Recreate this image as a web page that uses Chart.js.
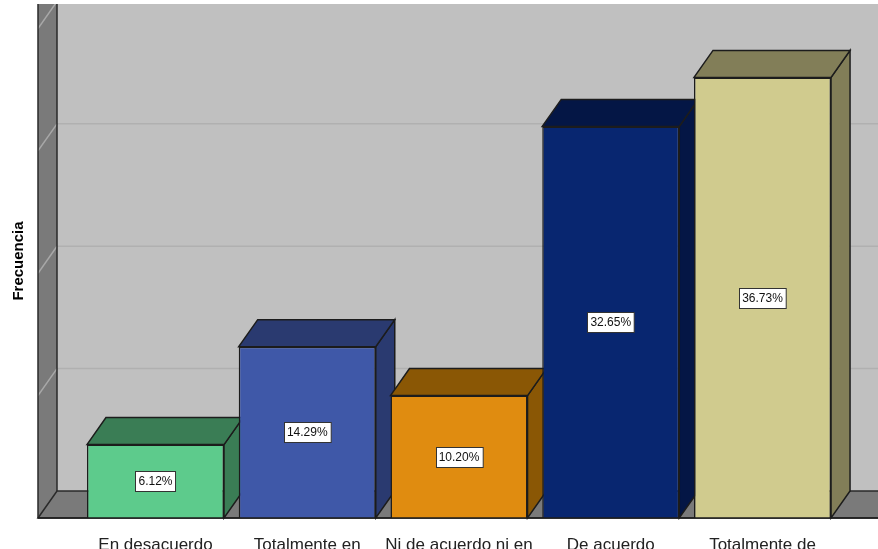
<!DOCTYPE html>
<html lang="es">
<head>
<meta charset="utf-8">
<title>Frecuencia</title>
<script src="https://cdn.jsdelivr.net/npm/chart.js@4"></script>
<style>
  html, body { margin: 0; padding: 0; background: #fff; overflow: hidden; }
  canvas { display: block; }
</style>
</head>
<body>
<canvas id="grafico" width="878" height="549"></canvas>
<script>
// Datos
const categorias = ["En desacuerdo", "Totalmente en", "Ni de acuerdo ni en", "De acuerdo", "Totalmente de"];
const frecuencias = [3, 7, 5, 16, 18];
const porcentajes = ["6.12%", "14.29%", "10.20%", "32.65%", "36.73%"];
const coloresFrente = ["#5dcb8c", "#3f58a8", "#e08c10", "#082670", "#d0cb8e"];
const coloresFondo = ["#3a7d55", "#2a3a70", "#8a5705", "#041645", "#827e58"];

// Profundidad del efecto 3D
const fondoX = 19;
const fondoY = 27;
const colorBorde = "#1c1c1c";

function poligono(ctx, puntos, relleno) {
  ctx.beginPath();
  puntos.forEach((p, i) => (i === 0 ? ctx.moveTo(p[0], p[1]) : ctx.lineTo(p[0], p[1])));
  ctx.closePath();
  ctx.fillStyle = relleno;
  ctx.fill();
  ctx.strokeStyle = colorBorde;
  ctx.lineWidth = 1.5;
  ctx.stroke();
}

// Paredes, suelo y caras laterales de las barras
const cajaPlugin = {
  id: "caja3d",
  beforeDatasetsDraw(chart) {
    const ctx = chart.ctx;
    const { top, bottom } = chart.chartArea;
    const izq = 38;
    const der = 878;
    const yScale = chart.scales.y;

    ctx.save();
    ctx.fillStyle = "#c0c0c0";
    ctx.fillRect(izq, top, der - izq, bottom - top);

    // Lineas de la pared del fondo y de la pared izquierda
    ctx.fillStyle = "#7a7a7a";
    ctx.fillRect(izq, top, fondoX, bottom - top);
    ctx.save();
    ctx.beginPath();
    ctx.rect(izq, top, der - izq, bottom - top);
    ctx.clip();
    yScale.ticks.forEach((t) => {
      if (t.value === 0) return;
      const y = yScale.getPixelForValue(t.value);
      ctx.strokeStyle = "#b0b0b0";
      ctx.lineWidth = 1.5;
      ctx.beginPath();
      ctx.moveTo(izq + fondoX, y - fondoY);
      ctx.lineTo(der, y - fondoY);
      ctx.stroke();
      ctx.strokeStyle = "#a8a8a8";
      ctx.beginPath();
      ctx.moveTo(izq, y);
      ctx.lineTo(izq + fondoX, y - fondoY);
      ctx.stroke();
    });
    ctx.restore();

    // Suelo
    ctx.beginPath();
    ctx.moveTo(izq, bottom);
    ctx.lineTo(izq + fondoX, bottom - fondoY);
    ctx.lineTo(der + 2, bottom - fondoY);
    ctx.lineTo(der + 2, bottom);
    ctx.closePath();
    ctx.fillStyle = "#7a7a7a";
    ctx.fill();
    ctx.strokeStyle = "#2a2a2a";
    ctx.lineWidth = 1.5;
    ctx.stroke();

    ctx.beginPath();
    ctx.moveTo(izq, top);
    ctx.lineTo(izq, bottom);
    ctx.moveTo(izq + fondoX, top);
    ctx.lineTo(izq + fondoX, bottom - fondoY);
    ctx.stroke();

    // Caras superior y lateral de cada barra
    chart.getDatasetMeta(0).data.forEach((bar, i) => {
      const x1 = bar.x - bar.width / 2;
      const x2 = bar.x + bar.width / 2;
      const base = bar.base;
      poligono(ctx, [[x2, bar.y], [x2 + fondoX, bar.y - fondoY], [x2 + fondoX, base - fondoY], [x2, base]], coloresFondo[i]);
      poligono(ctx, [[x1, bar.y], [x1 + fondoX, bar.y - fondoY], [x2 + fondoX, bar.y - fondoY], [x2, bar.y]], coloresFondo[i]);
    });
    ctx.restore();
  },
  afterDatasetsDraw(chart) {
    const ctx = chart.ctx;
    ctx.save();
    // Linea base del eje
    ctx.strokeStyle = colorBorde;
    ctx.lineWidth = 1.5;
    ctx.beginPath();
    ctx.moveTo(38, chart.chartArea.bottom);
    ctx.lineTo(878, chart.chartArea.bottom);
    ctx.stroke();

    // Etiquetas de porcentaje
    ctx.font = '12px "Liberation Sans"';
    ctx.textAlign = "center";
    ctx.textBaseline = "middle";
    chart.getDatasetMeta(0).data.forEach((bar, i) => {
      const cy = (bar.y + bar.base) / 2;
      const ancho = ctx.measureText(porcentajes[i]).width + 6;
      const alto = 20;
      const bx = Math.round(bar.x - ancho / 2) + 0.5;
      const by = Math.round(cy - alto / 2) + 0.5;
      ctx.fillStyle = "#fff";
      ctx.fillRect(bx, by, ancho, alto);
      ctx.strokeStyle = "#333";
      ctx.lineWidth = 1;
      ctx.strokeRect(bx, by, ancho, alto);
      ctx.fillStyle = "#111";
      ctx.fillText(porcentajes[i], bar.x, cy + 0.5);
    });
    ctx.restore();
  },
};

new Chart(document.getElementById("grafico"), {
  type: "bar",
  data: {
    labels: categorias,
    datasets: [
      {
        data: frecuencias,
        backgroundColor: coloresFrente,
        borderColor: colorBorde,
        borderWidth: 1.5,
        barPercentage: 0.903,
        categoryPercentage: 1,
      },
    ],
  },
  options: {
    responsive: false,
    animation: false,
    layout: { padding: { top: 4, right: 39.6, left: 0, bottom: 0 } },
    plugins: { legend: { display: false }, tooltip: { enabled: false } },
    scales: {
      x: {
        grid: { display: false },
        border: { display: false },
        afterFit(scale) {
          scale.height = 31;
        },
        ticks: {
          autoSkip: false,
          maxRotation: 0,
          padding: 9,
          color: "#222",
          font: { family: '"Liberation Sans"', size: 17 },
        },
      },
      y: {
        min: 0,
        max: 21,
        grid: { display: false },
        border: { display: false },
        afterFit(scale) {
          scale.width = 79.6;
        },
        ticks: { display: false, stepSize: 5 },
        title: {
          display: true,
          text: "Frecuencia",
          color: "#000",
          padding: { top: 10, bottom: 0 },
          font: { family: '"Liberation Sans"', size: 15, weight: "bold" },
        },
      },
    },
  },
  plugins: [cajaPlugin],
});
</script>
</body>
</html>
